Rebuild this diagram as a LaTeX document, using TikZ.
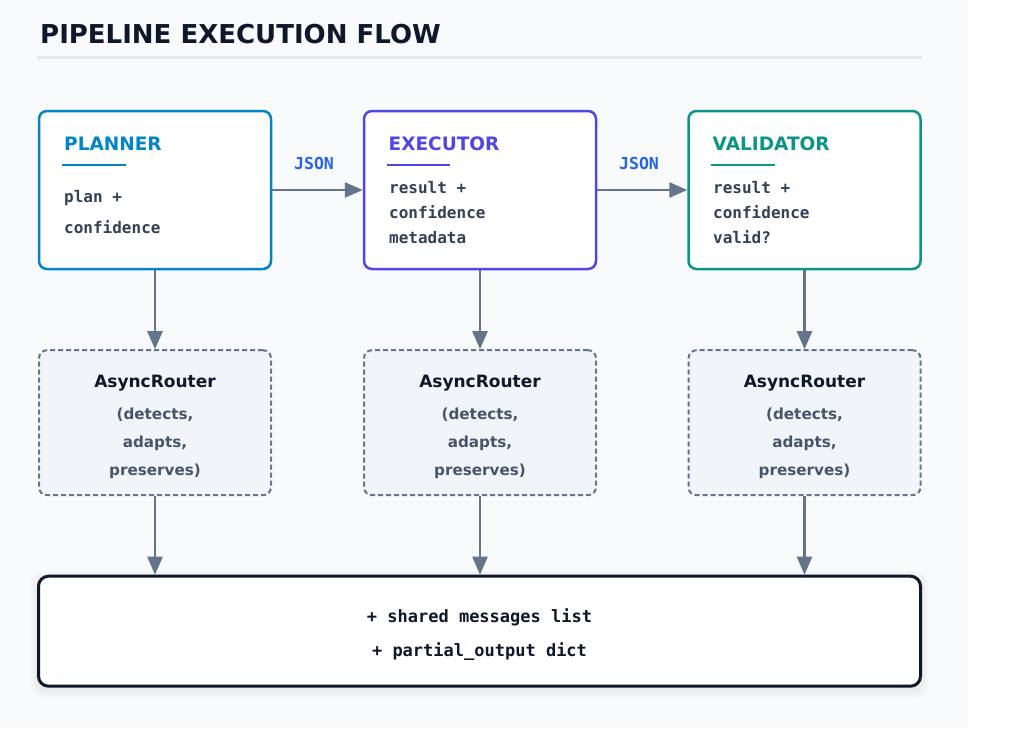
\documentclass[tikz,border=0pt]{standalone}
\usepackage{fontspec}
\setmainfont{DejaVu Sans}
\newfontfamily\monof{DejaVu Sans Mono}
\usetikzlibrary{arrows.meta}
\definecolor{bgc}{HTML}{F8FAFC}
\definecolor{rulec}{HTML}{E2E8F0}
\definecolor{titlec}{HTML}{0F172A}
\definecolor{planc}{HTML}{0284C7}
\definecolor{execc}{HTML}{4F46E5}
\definecolor{valc}{HTML}{0D9488}
\definecolor{jsonc}{HTML}{2563EB}
\definecolor{arrc}{HTML}{64748B}
\definecolor{bodyc}{HTML}{334155}
\definecolor{subc}{HTML}{475569}
\definecolor{asyncfill}{HTML}{F1F5F9}
\tikzset{
  agent/.style={draw=#1, line width=2.5pt, fill=white, rounded corners=8pt,
    minimum width=232pt, minimum height=158pt, inner sep=0pt},
  hdr/.style={anchor=base west, inner sep=0pt, text=#1,
    font=\fontsize{18.5}{22}\selectfont\bfseries},
  hline/.style={draw=#1, line width=2.5pt},
  body/.style={anchor=base west, inner sep=0pt, text=bodyc,
    font=\monof\fontsize{16}{19}\selectfont\bfseries},
  jsonlbl/.style={anchor=base, inner sep=0pt, text=jsonc,
    font=\monof\fontsize{16.5}{19}\selectfont\bfseries},
  router/.style={draw=arrc, line width=2pt, dash pattern=on 5pt off 3pt,
    fill=asyncfill, rounded corners=8pt, minimum width=232pt,
    minimum height=145pt, inner sep=0pt},
  rtitle/.style={anchor=base, inner sep=0pt, text=titlec,
    font=\fontsize{17}{20}\selectfont\bfseries},
  rsub/.style={anchor=base, inner sep=0pt, text=subc,
    font=\fontsize{15.2}{18}\selectfont\bfseries},
  store/.style={draw=titlec, line width=3pt, fill=white, rounded corners=10pt,
    minimum width=882pt, minimum height=110pt, inner sep=0pt},
  stext/.style={anchor=base, inner sep=0pt, text=titlec,
    font=\monof\fontsize{17}{20}\selectfont\bfseries},
  arr/.style={draw=arrc, line width=2.5pt,
    -{Triangle[length=18pt, width=15pt]}},
}
\begin{document}
\begin{tikzpicture}[x=1pt,y=-1pt]
\useasboundingbox (0,0) rectangle (1024,728);
\fill[bgc] (0,0) rectangle (968,728);

% title
\node[anchor=base west, inner sep=0pt, text=titlec,
  font=\fontsize{26}{31}\selectfont\bfseries] (title) at (40,43.3) {PIPELINE EXECUTION FLOW};
\draw[rulec, line width=3pt] (37,57.5) -- (922,57.5);

% agent boxes
\node[agent=planc] (planner) at (155,190) {};
\node[agent=execc] (executor) at (480,190) {};
\node[agent=valc] (validator) at (804.5,190) {};

\node[hdr=planc] (ph) at (64,150) {PLANNER};
\draw[hline=planc] (62,165) -- (125.5,165);
\node[body] (p1) at (64,202) {plan +};
\node[body] (p2) at (64,233) {confidence};

\node[hdr=execc] (eh) at (388.5,150) {EXECUTOR};
\draw[hline=execc] (387,165) -- (450,165);
\node[body] (e1) at (389,193) {result +};
\node[body] (e2) at (389,218) {confidence};
\node[body] (e3) at (389,243) {metadata};

\node[hdr=valc] (vh) at (712.5,150) {VALIDATOR};
\draw[hline=valc] (711,165) -- (774.5,165);
\node[body] (v1) at (713,193) {result +};
\node[body] (v2) at (713,218) {confidence};
\node[body] (v3) at (713,243) {valid?};

% JSON arrows
\draw[arr] (planner) -- (executor);
\draw[arr] (executor) -- (validator);
\node[jsonlbl] (j1) at (314,169) {JSON};
\node[jsonlbl] (j2) at (639,169) {JSON};

% routers
\node[router] (rp) at (155,422.7) {};
\node[router] (re) at (480,422.7) {};
\node[router] (rv) at (804.5,422.7) {};
\foreach \n/\x in {rp/155, re/480, rv/804.5}{
  \node[rtitle] (\n t) at (\x,387.3) {AsyncRouter};
  \node[rsub] (\n a) at (\x,419.5) {(detects,};
  \node[rsub] (\n b) at (\x,447.3) {adapts,};
  \node[rsub] (\n c) at (\x,475) {preserves)};
}

\draw[arr] (planner.south) -- (rp.north);
\draw[arr] (executor.south) -- (re.north);
\draw[arr] (validator.south) -- (rv.north);

% shadow of store
\foreach \i in {1,...,8}{
  \fill[black, opacity=0.006, rounded corners=12pt]
    (38-\i,578-\i) rectangle (921+\i,690+\i);
}
\node[store] (store) at (479.5,631.2) {};
\node[stext] (s1) at (479.5,622.7) {+ shared messages list};
\node[stext] (s2) at (479.5,656) {+ partial\_output dict};

\coordinate (ep) at (155,576);
\coordinate (ee) at (480,576);
\coordinate (ev) at (804.5,576);
\draw[arr] (rp.south) -- (store.north -| rp.south);
\draw[arr] (re.south) -- (store.north -| re.south);
\draw[arr] (rv.south) -- (store.north -| rv.south);
\end{tikzpicture}
\end{document}
